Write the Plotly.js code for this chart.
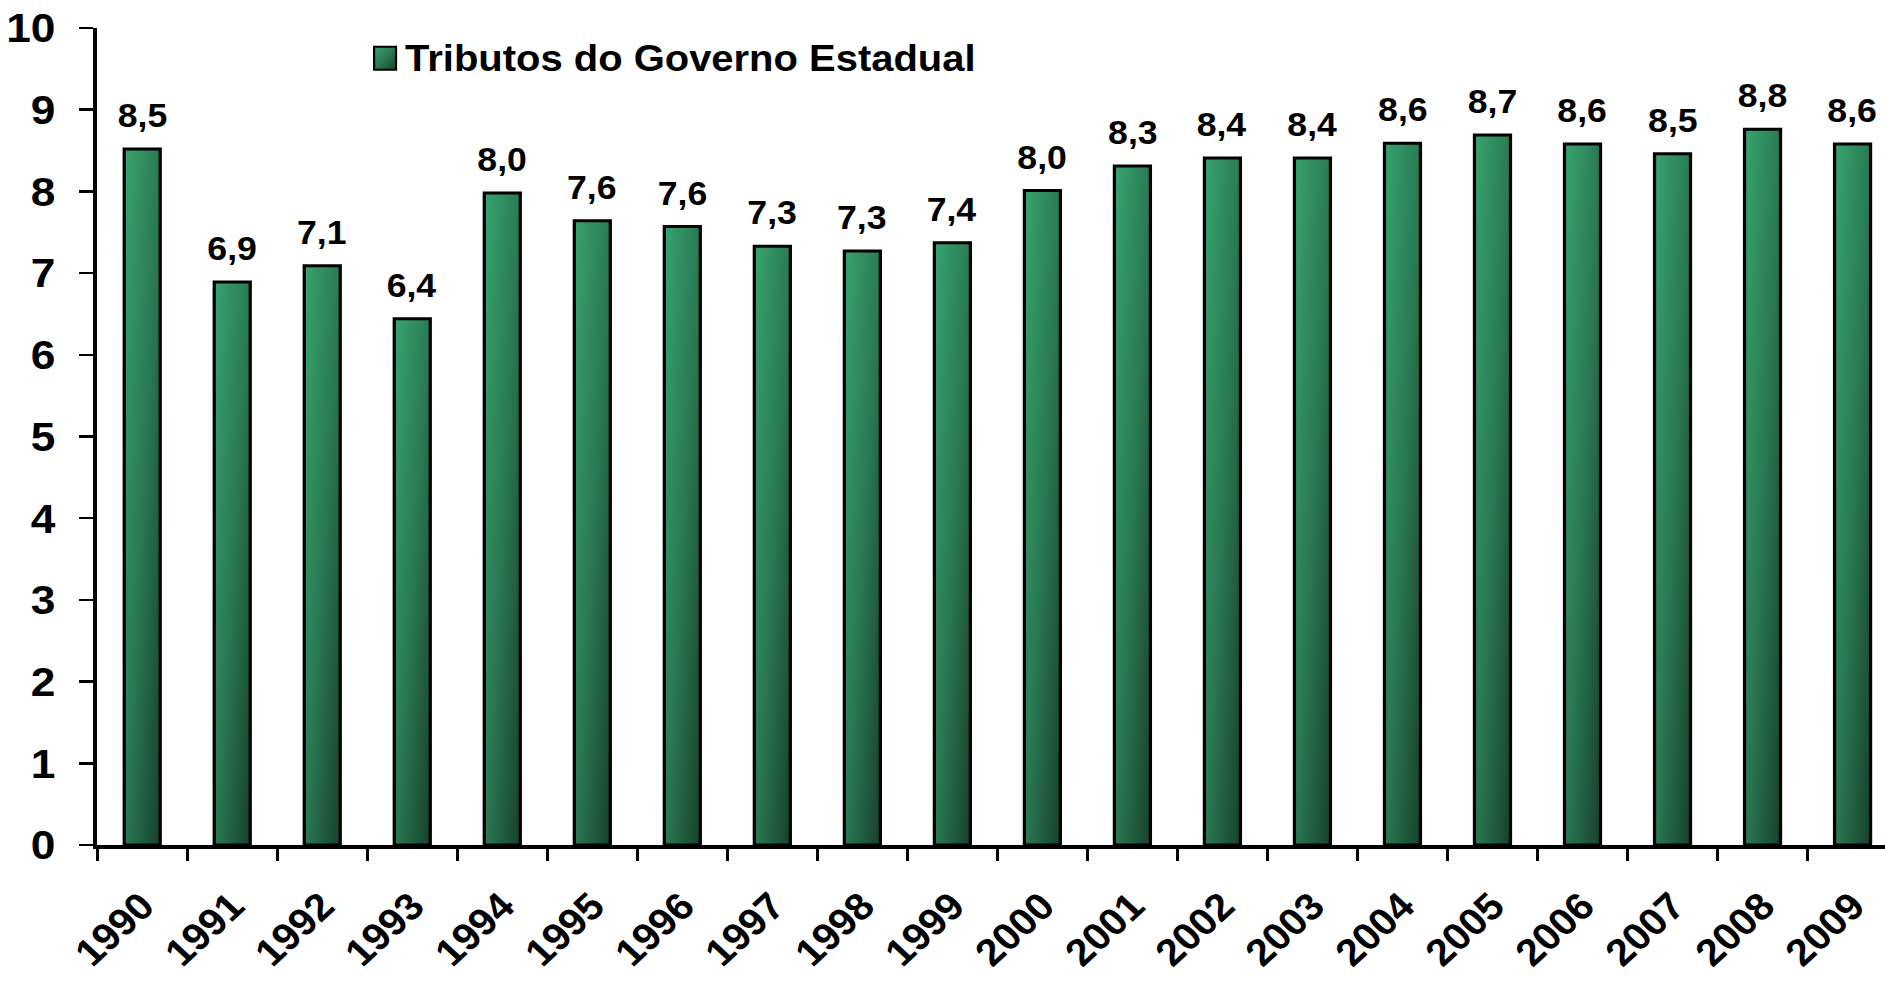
<!DOCTYPE html>
<html>
<head>
<meta charset="utf-8">
<script src="https://cdn.plot.ly/plotly-3.0.1.min.js"></script>
<style>
  html, body { margin: 0; padding: 0; background: #fff; overflow: hidden; }
  #wrap { width: 1885px; height: 984px; overflow: hidden; position: relative; }
  #chart { width: 1770px; height: 984px; transform: scaleX(1.08); transform-origin: 0 0; }
</style>
</head>
<body>
<div id="wrap"><div id="chart"></div></div>
<script>
// ---- data ----
const years = ['1990','1991','1992','1993','1994','1995','1996','1997','1998','1999',
               '2000','2001','2002','2003','2004','2005','2006','2007','2008','2009'];
const tributos = [8.52, 6.89, 7.09, 6.44, 7.98, 7.64, 7.57, 7.33, 7.27, 7.37,
                  8.01, 8.31, 8.41, 8.41, 8.59, 8.69, 8.58, 8.46, 8.76, 8.58];
const seriesName = 'Tributos do Governo Estadual';
const yTicks = [0,1,2,3,4,5,6,7,8,9,10];

const FONT = 'Liberation Sans, Arial, Helvetica, sans-serif';
const fmt = v => v.toFixed(1).replace('.', ',');

const trace = {
  type: 'bar',
  name: seriesName,
  x: years,
  y: tributos,
  marker: { color: '#2a7a52', line: { color: '#000', width: 3 } },
  showlegend: false,
  hoverinfo: 'skip'
};

// on a category axis, annotation x is the category's serial number
const labelAnnotations = years.map((yr, i) => ({
  x: i, y: tributos[i], xref: 'x', yref: 'y',
  text: fmt(tributos[i]), showarrow: false,
  yanchor: 'bottom', xanchor: 'center', yshift: 13,
  font: { family: FONT, size: 33, color: '#000', weight: 700 }
}));

const layout = {
  width: 1770, height: 984,
  margin: { l: 90, r: 13, t: 28, b: 139 },
  paper_bgcolor: '#fff', plot_bgcolor: '#fff',
  bargap: 0.6,
  font: { family: FONT, color: '#000' },
  xaxis: {
    type: 'category',
    categoryorder: 'array', categoryarray: years,
    range: [-0.5, years.length - 0.5],
    tickson: 'boundaries',
    ticks: 'outside', ticklen: 12, tickwidth: 2.5, tickcolor: '#000',
    showline: true, linecolor: '#000', linewidth: 3.5,
    showgrid: false, zeroline: false,
    tickangle: -45,
    ticklabelstandoff: 20,
    tickfont: { family: FONT, size: 38, color: '#000', weight: 700 },
    fixedrange: true
  },
  yaxis: {
    range: [0, 10],
    tickvals: yTicks,
    ticktext: yTicks.map(String),
    ticks: 'outside', ticklen: 13, tickwidth: 2.5, tickcolor: '#000',
    showline: true, linecolor: '#000', linewidth: 3.5,
    showgrid: false, zeroline: false,
    ticklabelstandoff: 14,
    tickfont: { family: FONT, size: 41, color: '#000', weight: 700 },
    fixedrange: true
  },
  shapes: [{
    type: 'rect', xref: 'paper', yref: 'paper',
    x0: 0.1538, x1: 0.1660, y0: 0.949, y1: 0.977,
    line: { color: '#000', width: 2 }, fillcolor: '#2a7a52'
  }],
  annotations: labelAnnotations.concat([{
    xref: 'paper', yref: 'paper', x: 0.170, y: 0.963,
    xanchor: 'left', yanchor: 'middle', showarrow: false,
    text: seriesName,
    font: { family: FONT, size: 37, color: '#000', weight: 700 }
  }])
};

Plotly.newPlot('chart', [trace], layout, { staticPlot: true, displayModeBar: false }).then(gd => {
  const svg = gd.querySelector('svg.main-svg');
  let defs = svg.querySelector('defs');
  if (!defs) { defs = document.createElementNS('http://www.w3.org/2000/svg', 'defs'); svg.insertBefore(defs, svg.firstChild); }
  const ns = 'http://www.w3.org/2000/svg';
  const grad = document.createElementNS(ns, 'linearGradient');
  grad.setAttribute('id', 'barGrad');
  grad.setAttribute('x1', '0'); grad.setAttribute('y1', '0');
  grad.setAttribute('x2', '1'); grad.setAttribute('y2', '1');
  [['0', '#38a46f'], ['0.5', '#2a7a53'], ['1', '#17402c']].forEach(([o, c]) => {
    const s = document.createElementNS(ns, 'stop');
    s.setAttribute('offset', o); s.setAttribute('stop-color', c);
    grad.appendChild(s);
  });
  defs.appendChild(grad);
  gd.querySelectorAll('.barlayer .point path').forEach(p => { p.style.fill = 'url(#barGrad)'; });
  gd.querySelectorAll('.shapelayer path').forEach(p => { p.style.fill = 'url(#barGrad)'; });
});
</script>
</body>
</html>
